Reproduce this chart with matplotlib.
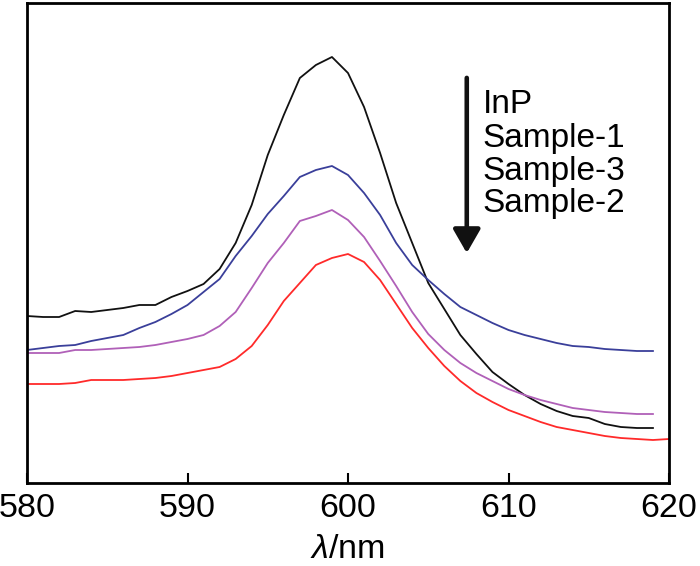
import matplotlib
matplotlib.use('Agg')
import matplotlib.pyplot as plt
import numpy as np

plt.rcParams['font.family'] = ['Liberation Sans', 'DejaVu Sans']
plt.rcParams['mathtext.fontset'] = 'custom'
plt.rcParams['mathtext.it'] = 'Liberation Sans:italic'
plt.rcParams['mathtext.rm'] = 'Liberation Sans'

# wavelength (nm) and PL intensity (arb. units)
wl = np.arange(580, 620)          # 580 .. 619
wl_red = np.arange(580, 621)      # red curve runs to 620

inp = [167, 166, 166, 172, 171, 173, 175, 178, 178, 186,
       192, 199, 214, 240, 278, 328, 368, 405, 418, 426,
       410, 376, 330, 280, 240, 200, 174, 148, 129, 111,
       99, 88, 79, 72, 67, 65, 59, 56, 55, 55]
sample1 = [133, 135, 137, 138, 142, 145, 148, 155, 161, 169,
           178, 191, 204, 227, 247, 269, 287, 306, 313, 317,
           308, 290, 268, 240, 218, 203, 189, 176, 168, 160,
           153, 148, 144, 140, 137, 136, 134, 133, 132, 132]
sample3 = [130, 130, 130, 133, 133, 134, 135, 136, 138, 141,
           144, 148, 157, 171, 195, 220, 240, 262, 267, 273,
           263, 246, 222, 197, 171, 149, 133, 120, 110, 102,
           94, 88, 83, 79, 75, 73, 71, 70, 69, 69]
sample2 = [99, 99, 99, 100, 103, 103, 103, 104, 105, 107,
           110, 113, 116, 124, 137, 158, 182, 200, 218, 225,
           229, 221, 203, 179, 155, 135, 117, 102, 90, 81,
           73, 67, 61, 56, 53, 50, 47, 45, 44, 43, 44]

labels = ['InP', 'Sample-1', 'Sample-3', 'Sample-2']
xticks = [580, 590, 600, 610, 620]

fig = plt.figure(figsize=(7, 5.66), dpi=100)
ax = fig.add_axes([27/700, 83/566, 642/700, 480/566])

lw = 1.3
ax.plot(wl, inp, color='#111111', lw=lw)
ax.plot(wl, sample1, color='#3a3f9a', lw=lw)
ax.plot(wl, sample3, color='#b060b8', lw=lw)
ax.plot(wl_red, sample2, color='#ff2a2a', lw=lw)

ax.set_xlim(580, 620)
ax.set_ylim(0, 480)
ax.set_xticks(xticks)
ax.set_yticks([])
ax.tick_params(axis='x', direction='in', length=7, width=1.5,
               labelsize=24.5, pad=7)
for s in ax.spines.values():
    s.set_linewidth(2)

# arrow + list of samples in order of decreasing intensity
ax.annotate('', xy=(0.685, 0.479), xytext=(0.685, 0.844),
            xycoords='axes fraction', textcoords='axes fraction',
            arrowprops=dict(arrowstyle='-|>,head_length=0.8,head_width=0.46',
                            lw=3.3, color='#111111', mutation_scale=18,
                            shrinkA=0, shrinkB=0))
ys = [0.770, 0.699, 0.631, 0.565]
for lab, y in zip(labels, ys):
    ax.text(0.710, y, lab, transform=ax.transAxes, fontsize=24,
            va='baseline', ha='left')

fig.text(347/700, 0.002, r'$\lambda$/nm', fontsize=24.5,
         ha='center', va='bottom')

fig.savefig('out.png', dpi=100)
